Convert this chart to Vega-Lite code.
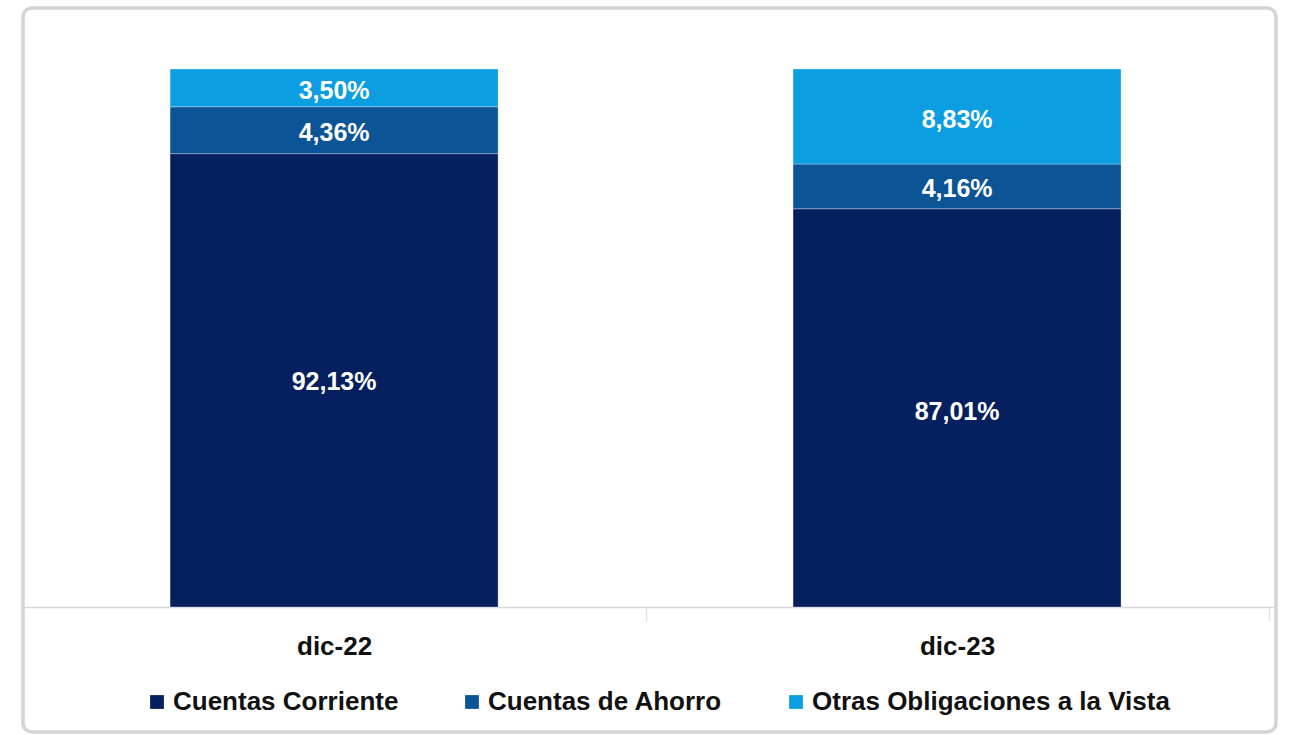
{
  "$schema": "https://vega.github.io/schema/vega-lite/v6.json",
  "width": 1253,
  "height": 724,
  "autosize": {"type": "none"},
  "padding": {"left": 23, "top": 8, "right": 13, "bottom": 3},
  "background": "white",
  "config": {
    "locale": {"number": {"decimal": ",", "thousands": ".", "grouping": [3], "currency": ["", " €"]}},
    "view": {"stroke": "#d4d4d4", "strokeWidth": 3.5, "cornerRadius": 9, "fill": "white"},
    "font": "Liberation Sans"
  },
  "data": {
    "values": [
      {"periodo": "dic-22", "serie": "Cuentas Corriente", "valor": 0.9213},
      {"periodo": "dic-22", "serie": "Cuentas de Ahorro", "valor": 0.0436},
      {"periodo": "dic-22", "serie": "Otras Obligaciones a la Vista", "valor": 0.035},
      {"periodo": "dic-23", "serie": "Cuentas Corriente", "valor": 0.8701},
      {"periodo": "dic-23", "serie": "Cuentas de Ahorro", "valor": 0.0416},
      {"periodo": "dic-23", "serie": "Otras Obligaciones a la Vista", "valor": 0.0883}
    ]
  },
  "encoding": {
    "x": {
      "field": "periodo",
      "type": "nominal",
      "scale": {"paddingInner": 0.4735, "paddingOuter": 0.2424, "align": 0.487},
      "axis": {
        "orient": "bottom",
        "offset": -125,
        "title": null,
        "domainColor": "#d9d9d9",
        "domainWidth": 1.5,
        "tickColor": "#e3e3e3",
        "tickWidth": 1.5,
        "tickSize": 14,
        "tickOffset": 311.5,
        "labelOffset": -311.5,
        "labelFont": "Liberation Sans",
        "labelFontSize": 26,
        "labelFontWeight": "bold",
        "labelColor": "#111111",
        "labelPadding": 12,
        "labelAngle": 0
      }
    }
  },
  "layer": [
    {
      "mark": {"type": "bar", "stroke": "#ffffff", "strokeWidth": 1, "strokeOpacity": 0.3},
      "encoding": {
        "y": {
          "field": "valor",
          "type": "quantitative",
          "stack": "zero",
          "scale": {"domain": [0.5, 1], "range": [599, 61], "clamp": true, "nice": false, "zero": false},
          "axis": null
        },
        "order": {"field": "serie", "sort": "ascending"},
        "color": {
          "field": "serie",
          "type": "nominal",
          "scale": {
            "domain": ["Cuentas Corriente", "Cuentas de Ahorro", "Otras Obligaciones a la Vista"],
            "range": ["#061f5f", "#0b5495", "#0b9ee0"]
          },
          "legend": {
            "orient": "none",
            "legendX": 121,
            "legendY": 681,
            "direction": "horizontal",
            "title": null,
            "symbolType": "square",
            "symbolSize": 190,
            "symbolStrokeWidth": 0,
            "labelFont": "Liberation Sans",
            "labelFontSize": 26,
            "labelFontWeight": "bold",
            "labelColor": "#111111",
            "labelOffset": 3,
            "columnPadding": 60,
            "labelLimit": 600
          }
        }
      }
    },
    {
      "mark": {"type": "text", "color": "white", "fontSize": 25, "fontWeight": "bold", "baseline": "middle", "dy": 3, "font": "Liberation Sans"},
      "encoding": {
        "y": {
          "field": "valor",
          "type": "quantitative",
          "stack": "zero",
          "bandPosition": 0.5,
          "scale": {"domain": [0.5, 1], "range": [599, 61], "clamp": true, "nice": false, "zero": false},
          "axis": null
        },
        "order": {"field": "serie", "sort": "ascending"},
        "detail": {"field": "serie", "type": "nominal"},
        "text": {
          "condition": {"test": "datum.serie === 'Cuentas Corriente'", "value": ""},
          "field": "valor",
          "type": "quantitative",
          "format": ".2%"
        }
      }
    },
    {
      "transform": [{"filter": "datum.serie === 'Cuentas Corriente'"}],
      "mark": {"type": "text", "color": "white", "fontSize": 25, "fontWeight": "bold", "baseline": "middle", "dy": 3, "font": "Liberation Sans"},
      "encoding": {
        "y": {
          "field": "valor",
          "type": "quantitative",
          "scale": {"domain": [0.5, 1], "range": [625, 323], "nice": false, "zero": false},
          "axis": null
        },
        "text": {"field": "valor", "type": "quantitative", "format": ".2%"}
      }
    }
  ],
  "resolve": {"scale": {"y": "independent"}}
}
